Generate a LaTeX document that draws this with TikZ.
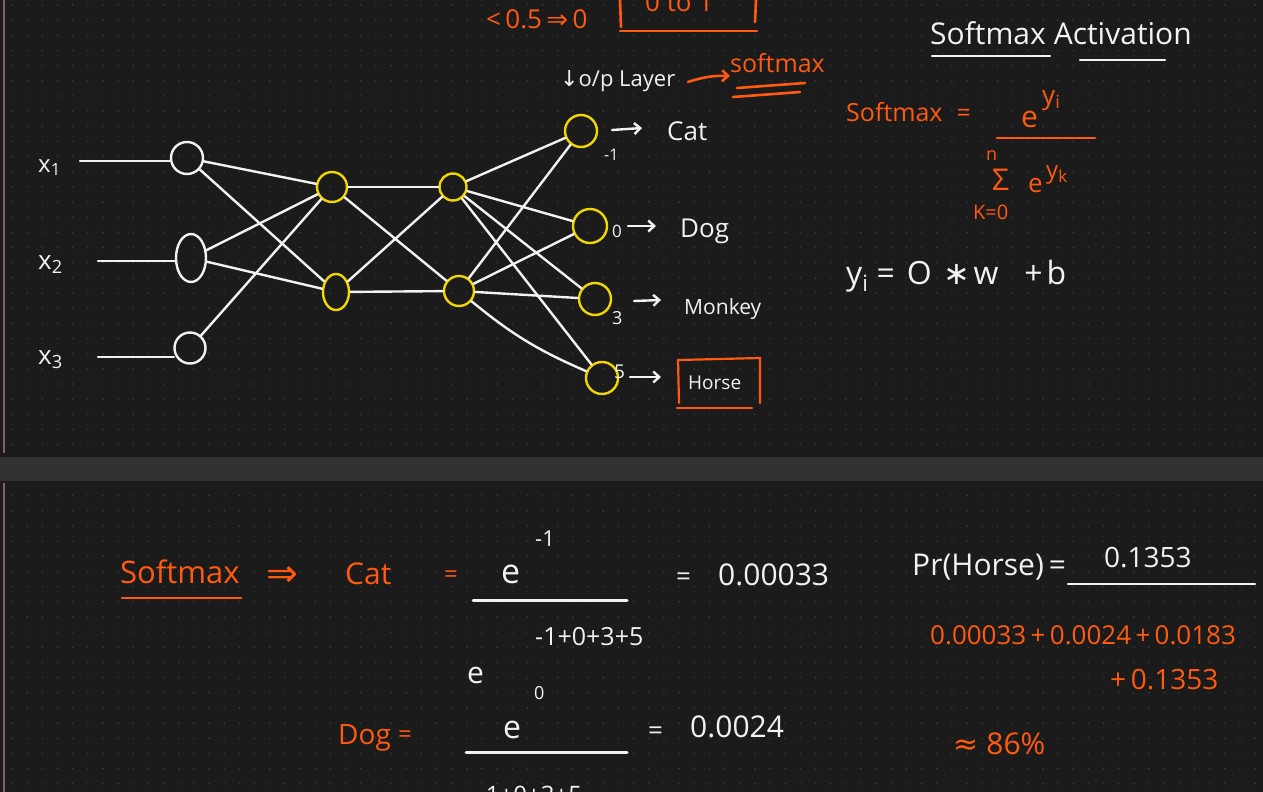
\documentclass[tikz,border=0pt]{standalone}
\usepackage{fontspec}
\setmainfont{Open Sans}
\newfontfamily\symf{DejaVu Sans}
\usetikzlibrary{shapes.geometric,arrows.meta}
\definecolor{bgc}{HTML}{1B1B1B}
\definecolor{bandc}{HTML}{323232}
\definecolor{dotc}{HTML}{3A3A3A}
\definecolor{pinkc}{HTML}{8C5A6E}
\definecolor{wc}{HTML}{F2F2F2}
\definecolor{oc}{HTML}{FF5A10}
\definecolor{yc}{HTML}{F2D600}
\newcommand\fsz[1]{\fontsize{#1}{#1}\selectfont}
\tikzset{
  wt/.style={anchor=base west, inner sep=0pt, text=wc},
  ot/.style={anchor=base west, inner sep=0pt, text=oc},
  wl/.style={draw=wc, line width=2.4pt, line cap=round},
  ol/.style={draw=oc, line width=2.6pt, line cap=round},
  inn/.style={circle, draw=wc, line width=2.4pt, inner sep=0pt, minimum size=#1},
  yn/.style={circle, draw=yc, line width=2.4pt, inner sep=0pt, minimum size=#1},
  warr/.style={wl, -{Straight Barb[length=6pt,width=11pt]}},
  oarr/.style={ol, -{Straight Barb[length=6pt,width=11pt]}},
}
\begin{document}
\begin{tikzpicture}[x=1pt,y=-1pt]
\useasboundingbox (0,0) rectangle (1263,792);
\clip (0,0) rectangle (1263,792);
\fill[bgc] (0,0) rectangle (1263,792);
% dot grid
\foreach \r in {0,...,29}
  \draw[dotc, line width=1.8pt, dash pattern=on 0pt off 15.16pt, line cap=round] (12,{5+15.16*\r}) -- (1263,{5+15.16*\r});
\foreach \r in {0,...,19}
  \draw[dotc, line width=1.8pt, dash pattern=on 0pt off 15.16pt, line cap=round] (12,{495.7+15.16*\r}) -- (1263,{495.7+15.16*\r});
% page band
\fill[bandc] (0,457) rectangle (1263,481);
\draw[pinkc, line width=1.5pt] (4,0) -- (4,453);
\draw[pinkc, line width=1.5pt] (4,483) -- (4,792);

% ---- top partial notes
\node[ot, font=\fsz{26}] (lt) at (486,29) {<\,0.5\,{\symf ⇒}\,0};
\node[ot, font=\fsz{26}] (zt) at (645,12) {0 to 1};
\draw[ol] (620,0) -- (621,27);
\draw[ol] (756,0) -- (755,22);
\draw[ol] (620,31) -- (757,31);

\node[wt, font=\fsz{22}] (opl) at (560,86) {{\symf ↓}o/p Layer};
\node[ot, font=\fsz{25}] (smx) at (730,72) {softmax};
\coordinate (sa) at (688,82);
\draw[oarr] (sa) to[bend left=10] (smx.west |- 0,76);
\draw[ol] (737,88) -- (805,83);
\draw[ol] (733,97) -- (800,92);

% ---- title and formula
\node[wt, font=\fsz{30}] (title) at (930,45) {Softmax\hspace{8pt}Activation};
\draw[wl] (932,56) -- (1050,56);
\draw[wl] (1080,60) -- (1165,60);

\node[ot, font=\fsz{25}] (sf) at (846,121) {Softmax\hspace{14pt}=};
\node[ot, font=\fsz{30}] (ne) at (1021,127) {e};
\node[ot, font=\fsz{26}] (nyi) at (1042,104) {y\textsubscript{i}};
\draw[ol] (997,138) -- (1095,138);
\node[ot, font=\fsz{18}] (dn) at (986,160) {n};
\node[ot, font=\fsz{30}] (dsig) at (992,190) {Σ};
\node[ot, font=\fsz{26}] (de) at (1028,192) {e};
\node[ot, font=\fsz{24}] (dyk) at (1046,178) {y\textsubscript{k}};
\node[ot, font=\fsz{20}] (dk) at (973,219) {K=0};

\node[wt, font=\fsz{32}] (yeq) at (846,284) {y\textsubscript{i}\hspace{8pt}=\hspace{12pt}O\hspace{12pt}{\symf ∗}\hspace{3pt}w\hspace{26pt}+\hspace{4pt}b};

% ---- network
\node[wt, font=\fsz{24}] (lx1) at (38,172) {x\textsubscript{1}};
\node[wt, font=\fsz{26}] (lx2) at (38,269) {x\textsubscript{2}};
\node[wt, font=\fsz{26}] (lx3) at (38,364) {x\textsubscript{3}};

\node[inn=32pt] (i1) at (187,158) {};
\node[ellipse, draw=wc, line width=2.4pt, inner sep=0pt, minimum width=30pt, minimum height=48pt] (i2) at (191,258) {};
\node[inn=31pt] (i3) at (190,348) {};

\coordinate (s1) at (80,161);
\coordinate (s2) at (98,261);
\coordinate (s3) at (98,357);
\draw[wl] (s1) -- (171,161);
\draw[wl] (s2) -- (176,261);
\draw[wl] (s3) -- (174,357);

\node[yn=30pt] (h1a) at (332,187) {};
\node[ellipse, draw=yc, line width=2.4pt, inner sep=0pt, minimum width=26pt, minimum height=36pt] (h1b) at (336,292) {};
\node[yn=27pt] (h2a) at (453,187) {};
\node[yn=30pt] (h2b) at (459,291) {};

\node[yn=32pt] (o1) at (581,131) {};
\node[yn=34pt] (o2) at (590,226) {};
\node[yn=32pt] (o3) at (595,299) {};
\node[yn=32pt] (o4) at (602,378) {};

\foreach \a/\b in {i1/h1a,i1/h1b,i2/h1a,i2/h1b,i3/h1a,
                   h1a/h2a,h1a/h2b,h1b/h2a,h1b/h2b,
                   h2a/o1,h2a/o2,h2a/o3,h2a/o4,
                   h2b/o1,h2b/o2,h2b/o3}
  \draw[wl] (\a) -- (\b);
\draw[wl] (h2b) to[bend right=8] (o4);

% output labels
\node[wt, font=\fsz{16}] (v1) at (604,160) {-1};
\node[wt, font=\fsz{26}] (cat) at (667,140) {Cat};
\node[wt, font=\fsz{17}] (v2) at (612,237) {0};
\node[wt, font=\fsz{26}] (dog) at (680,237) {Dog};
\node[wt, font=\fsz{18}] (v3) at (612,324) {3};
\node[wt, font=\fsz{21}] (mon) at (684,314) {Monkey};
\node[wt, font=\fsz{19}] (v4) at (614,378) {5};
\node[wt, font=\fsz{19}] (hor) at (688,389) {Horse};
\coordinate (a1) at (612,130); \coordinate (b1) at (642,128);
\coordinate (a2) at (628,226); \coordinate (b2) at (656,226);
\coordinate (a3) at (634,301); \coordinate (b3) at (661,300);
\coordinate (a4) at (630,377); \coordinate (b4) at (661,377);
\draw[warr] (a1) -- (b1);
\draw[warr] (a2) -- (b2);
\draw[warr] (a3) -- (b3);
\draw[warr] (a4) -- (b4);
\draw[ol, line width=2.2pt] (678,360) -- (760,358) -- (760,403);
\draw[ol, line width=2.2pt] (678,360) -- (679,403);
\draw[ol] (677,408) -- (752,408);

% ---- bottom page
\node[ot, font=\fsz{31}] (bsm) at (120,583) {Softmax};
\draw[ol] (122,598) -- (241,598);
\node[ot, font=\fsz{38}] (bimp) at (266,586) {{\symf ⇒}};
\node[ot, font=\fsz{30}] (bcat) at (345,584) {Cat};
\node[ot, font=\fsz{24}] (beq1) at (444,582) {=};
\node[wt, font=\fsz{34}] (ce) at (501,583) {e};
\node[wt, font=\fsz{22}] (cex) at (535,546) {-1};
\draw[wl, line width=3pt] (473,600) -- (627,600);
\node[wt, font=\fsz{26}] (ceq) at (676,585) {=};
\node[wt, font=\fsz{30}] (cval) at (718,585) {0.00033};
\node[wt, font=\fsz{25}] (cdx) at (535,645) {-1+0+3+5};
\node[wt, font=\fsz{30}] (cde) at (467,683) {e};

\node[ot, font=\fsz{28}] (bdog) at (338,744) {Dog};
\node[ot, font=\fsz{24}] (beq2) at (398,742) {=};
\node[wt, font=\fsz{18}] (dx) at (534,699) {0};
\node[wt, font=\fsz{32}] (dge) at (503,738) {e};
\draw[wl, line width=3pt] (466,752) -- (627,752);
\node[wt, font=\fsz{26}] (deq) at (648,739) {=};
\node[wt, font=\fsz{30}] (dval) at (690,737) {0.0024};
\node[wt, font=\fsz{24}] (ddx) at (478,803) {-1+0+3+5};

\node[wt, font=\fsz{30}] (pr) at (912,575) {Pr(Horse)\,=};
\node[wt, font=\fsz{28}] (prn) at (1104,567) {0.1353};
\draw[wl] (1068,584) -- (1255,584);
\node[ot, font=\fsz{26}] (sum1) at (930,644) {0.00033\,+\,0.0024\,+\,0.0183};
\node[ot, font=\fsz{28}] (sum2) at (1110,689) {+\,0.1353};
\node[ot, font=\fsz{30}] (apx) at (953,754) {{\symf ≈}\hspace{8pt}86\%};
\end{tikzpicture}
\end{document}
